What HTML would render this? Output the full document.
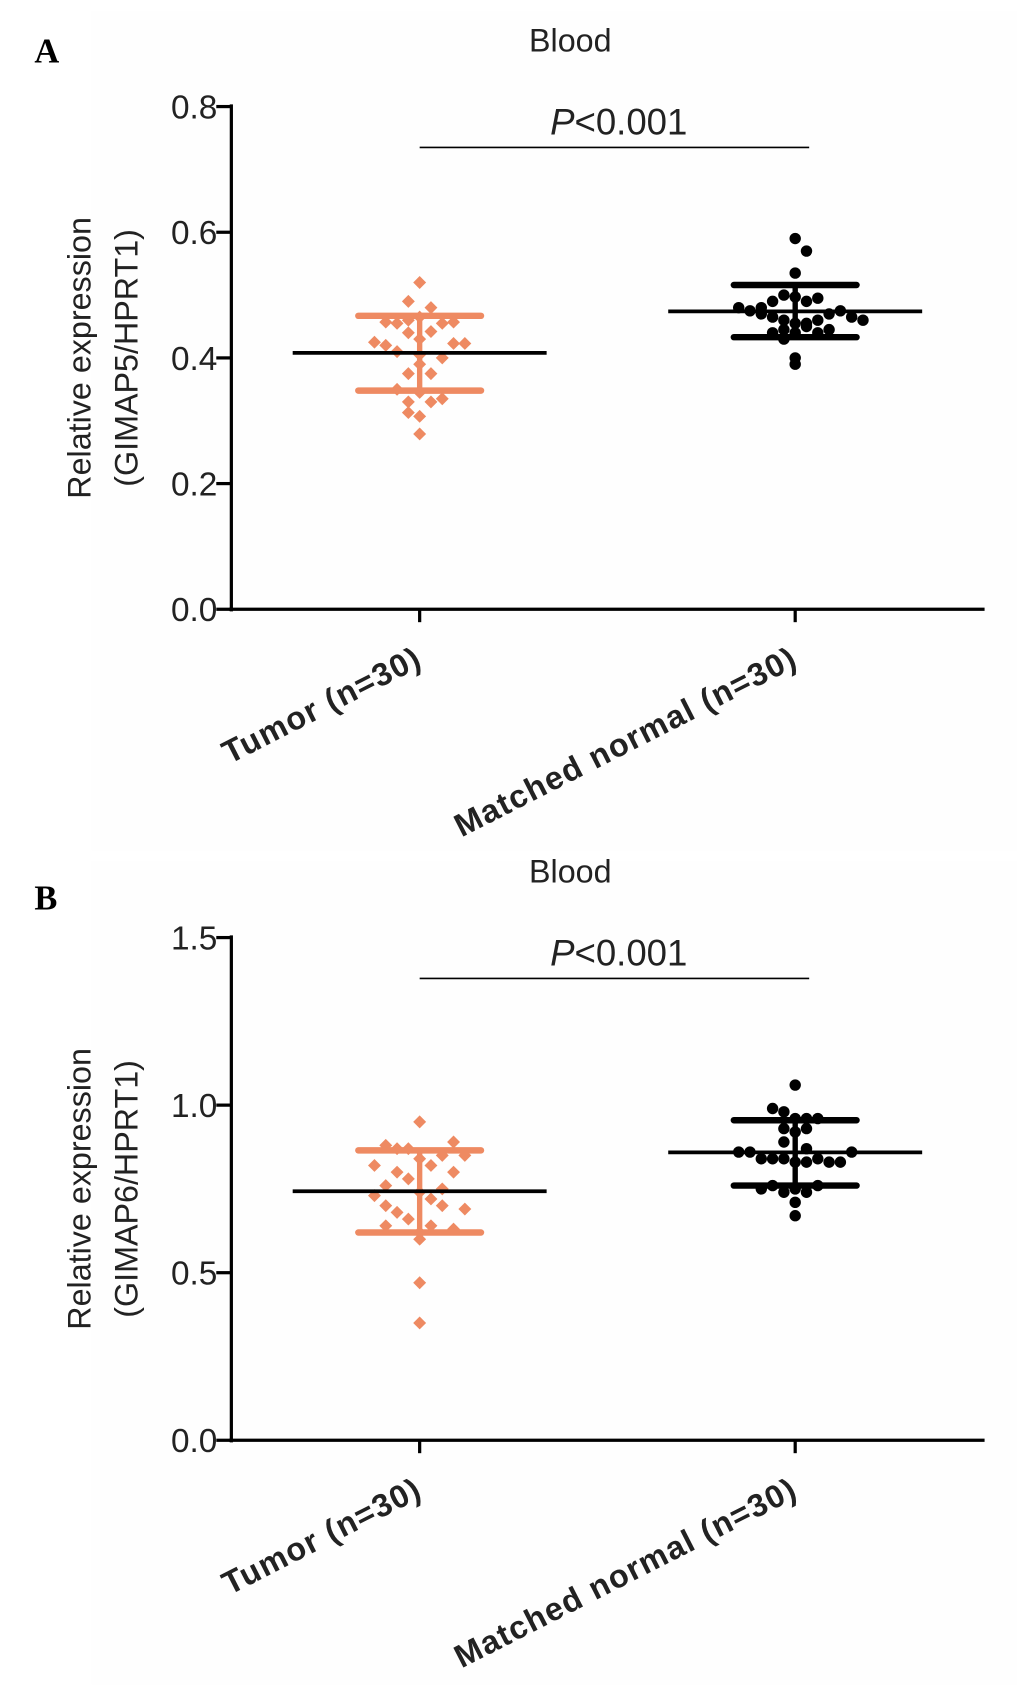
<!DOCTYPE html>
<html><head><meta charset="utf-8"><style>
html,body{margin:0;padding:0;background:#fff;}
svg{display:block;font-family:"Liberation Sans",Arial,sans-serif;}
</style></head><body>
<svg id="fig" width="1033" height="1690" viewBox="0 0 960 1570" preserveAspectRatio="none" xmlns="http://www.w3.org/2000/svg">
<rect width="960" height="1570" fill="#fff"/>
<rect x="85" y="10" width="860" height="780" fill="#fefefe"/>
<rect x="85" y="800" width="860" height="765" fill="#fefefe"/>
<g id="chartA"></g>
<g id="chartB"></g>
</svg>
<script>
// Panel A data
const aTicks=[0.0,0.2,0.4,0.6,0.8];
const aTumor=[0.52,0.49,0.48,0.457,0.455,0.455,0.457,0.465,0.425,0.42,0.44,0.442,0.423,0.423,0.41,0.405,0.40,0.375,0.375,0.345,0.35,0.33,0.33,0.335,0.313,0.307,0.279,0.43,0.46,0.39];
const aTumorJit=[0,-1,1,-3,-2,2,3,0,-4,-3,-1,1,3,4,-2,0,2,-1,1,0,-2,-1,1,2,-1,0,0,0,-1,0];
const aNormal=[0.59,0.57,0.535,0.50,0.497,0.49,0.49,0.495,0.48,0.475,0.47,0.465,0.46,0.455,0.455,0.46,0.47,0.475,0.465,0.46,0.44,0.445,0.44,0.45,0.44,0.445,0.40,0.39,0.48,0.43];
const aNormalJit=[0,1,0,-1,0,1,-2,2,-5,-4,-3,-2,-1,0,1,2,3,4,5,6,-2,-1,0,1,2,3,0,0,-3,-1];
const aStats={tumor:[0.408,0.467,0.348],normal:[0.474,0.516,0.433]};
// Panel B data
const bTicks=[0.0,0.5,1.0,1.5];
const bTumor=[0.95,0.88,0.87,0.85,0.89,0.87,0.84,0.82,0.85,0.80,0.82,0.78,0.80,0.76,0.75,0.73,0.74,0.72,0.70,0.70,0.68,0.69,0.66,0.64,0.64,0.62,0.63,0.60,0.47,0.35];
const bTumorJit=[0,-3,-1,2,3,-2,0,1,4,-2,-4,-1,3,-3,2,-4,0,1,-3,2,-2,4,-1,1,-3,0,3,0,0,0];
const bNormal=[1.06,0.99,0.98,0.96,0.96,0.96,0.93,0.92,0.93,0.89,0.87,0.86,0.86,0.84,0.84,0.84,0.83,0.83,0.84,0.83,0.83,0.86,0.76,0.74,0.75,0.74,0.76,0.75,0.71,0.67];
const bNormalJit=[0,-2,-1,0,1,2,-1,0,1,-1,1,-4,5,-3,-2,-1,0,1,2,3,4,-5,-2,-1,0,1,2,-3,0,0];
const bStats={tumor:[0.743,0.865,0.62],normal:[0.859,0.955,0.76]};
const cats=["Tumor (n=30)","Matched normal (n=30)"];
const NS="http://www.w3.org/2000/svg";
const ORANGE="#EE8A62";
function mk(parent,tag,attrs,txt){const e=document.createElementNS(NS,tag);for(const k in attrs)e.setAttribute(k,attrs[k]);if(txt!==undefined)e.textContent=txt;parent.appendChild(e);return e;}
function panel(g,o){
  const x0=215,x1=915,yTop=o.yTop,yBot=o.yBot,ymax=o.ymax;
  const Y=v=>yBot-(v/ymax)*(yBot-yTop);
  const X=[390,739];
  const lbl=mk(g,'text',{x:32,y:o.letterY,'font-family':'Liberation Serif,serif','font-weight':'bold','font-size':32});
  lbl.textContent=o.letter;
  
  
  const t=mk(g,'text',{x:530,y:o.yTop-51,'text-anchor':'middle','font-size':30,fill:'#222'},'Blood');
  
  
  const ya=mk(g,'line',{x1:x0,y1:yTop-2,x2:x0,y2:yBot+2,stroke:'#000','stroke-width':3});
  
  
  const xa=mk(g,'line',{x1:x0-2,y1:yBot,x2:x1,y2:yBot,stroke:'#000','stroke-width':3});
  
  
  o.ticks.forEach(v=>{
    mk(g,'line',{x1:x0-14,y1:Y(v),x2:x0,y2:Y(v),stroke:'#000','stroke-width':3});
    const tl=mk(g,'text',{x:x0-13,y:Y(v)+11,'text-anchor':'end','font-size':31,fill:'#222'},v.toFixed(1));
    
    
  });
  const yt=mk(g,'text',{transform:`translate(84,${(yTop+yBot)/2}) rotate(-90)`,'text-anchor':'middle','font-size':30,fill:'#222'});
  mk(yt,'tspan',{x:0,dy:0},'Relative expression');
  mk(yt,'tspan',{x:0,dy:44},o.ylab);
  
  
  X.forEach((cx,i)=>{
    mk(g,'line',{x1:cx,y1:yBot,x2:cx,y2:yBot+12,stroke:'#000','stroke-width':3});
    const cl=mk(g,'text',{transform:`translate(${cx+4},${yBot+52}) rotate(-27)`,'text-anchor':'end','font-size':30,'font-weight':'bold','letter-spacing':1.2,fill:'#222'},cats[i]);
    
    
  });
  const pl=mk(g,'line',{x1:390,y1:yTop+38,x2:752,y2:yTop+38,stroke:'#000','stroke-width':1.5});
  
  
  const pt=mk(g,'text',{x:575,y:yTop+26,'text-anchor':'middle','font-size':34,fill:'#222'});
  mk(pt,'tspan',{'font-style':'italic'},'P');
  mk(pt,'tspan',{},'<0.001');
  
  
  const groups=[[o.tumor,o.tumorJit,ORANGE,'diamond'],[o.normal,o.normalJit,'#000','circle']];
  groups.forEach((gr,i)=>{
    const [vals,jit,col,shape]=gr;
    vals.forEach((v,k)=>{
      const cx=X[i]+jit[k]*10.5,cy=Y(v);
      let e;
      if(shape==='diamond') e=mk(g,'polygon',{points:`${cx},${cy-6} ${cx+6},${cy} ${cx},${cy+6} ${cx-6},${cy}`,fill:col});
      else e=mk(g,'circle',{cx:cx,cy:cy,r:5.3,fill:col});
      
      
    });
  });
  [[o.stats.tumor,ORANGE],[o.stats.normal,'#000']].forEach((s,i)=>{
    const [m,hi,lo]=s[0],col=s[1],cx=X[i];
    const eb=mk(g,'line',{x1:cx,y1:Y(hi),x2:cx,y2:Y(lo),stroke:col,'stroke-width':5});
    
    
    [hi,lo].forEach(v=>{
      const c=mk(g,'line',{x1:cx-57,y1:Y(v),x2:cx+57,y2:Y(v),stroke:col,'stroke-width':6,'stroke-linecap':'round'});
      
      
    });
    const ml=mk(g,'line',{x1:cx-118,y1:Y(m),x2:cx+118,y2:Y(m),stroke:'#000','stroke-width':3.5});
    
    
  });
}
panel(document.getElementById('chartA'),{letter:'A',letterY:58,yTop:99,yBot:566,ymax:0.8,ticks:aTicks,ylab:'(GIMAP5/HPRT1)',tumor:aTumor,tumorJit:aTumorJit,normal:aNormal,normalJit:aNormalJit,stats:aStats});
panel(document.getElementById('chartB'),{letter:'B',letterY:845,yTop:871,yBot:1338,ymax:1.5,ticks:bTicks,ylab:'(GIMAP6/HPRT1)',tumor:bTumor,tumorJit:bTumorJit,normal:bNormal,normalJit:bNormalJit,stats:bStats});
</script>
</body></html>
